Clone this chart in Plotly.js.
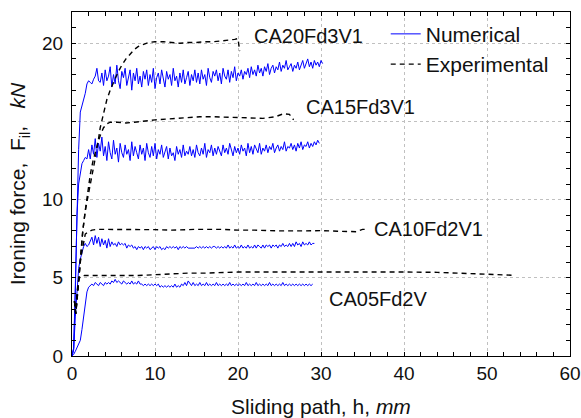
<!DOCTYPE html>
<html>
<head>
<meta charset="utf-8">
<script src="https://cdn.plot.ly/plotly-3.0.1.min.js"></script>
<style>html,body{margin:0;padding:0;background:#fff;}#chart{width:581px;height:418px;}</style>
</head>
<body>
<div id="chart"></div>
<script>
// Sliding path sample positions for numerical curves (mm)
const hNum = [0,0.2,0.4,0.6,0.8,1,1.2,1.4,1.6,1.8,
2,2.2,2.4,2.6,2.8,3,3.2,3.4,3.6,3.8,
4,4.2,4.4,4.6,4.8,5,5.2,5.4,5.6,5.8,
6,6.2,6.4,6.6,6.8,7,7.2,7.4,7.6,7.8,
8,8.2,8.4,8.6,8.8,9,9.2,9.4,9.6,9.8,
10,10.2,10.4,10.6,10.8,11,11.2,11.4,11.6,11.8,
12,12.2,12.4,12.6,12.8,13,13.2,13.4,13.6,13.8,
14,14.2,14.4,14.6,14.8,15,15.2,15.4,15.6,15.8,
16,16.2,16.4,16.6,16.8,17,17.2,17.4,17.6,17.8,
18,18.2,18.4,18.6,18.8,19,19.2,19.4,19.6,19.8,
20,20.2,20.4,20.6,20.8,21,21.2,21.4,21.6,21.8,
22,22.2,22.4,22.6,22.8,23,23.2,23.4,23.6,23.8,
24,24.2,24.4,24.6,24.8,25,25.2,25.4,25.6,25.8,
26,26.2,26.4,26.6,26.8,27,27.2,27.4,27.6,27.8,
28,28.2,28.4,28.6,28.8,29,29.2,29.4,29.6,29.8,
30,30.2];

// Numerical ironing force (kN)
const numCA20 = [0,0.5,4.5,9.5,13.2,15.6,16.0,16.4,16.8,17.4,17.6,17.5,17.4,17.7,17.9,18.4,
17.6,17.5,18.1,17.3,18.3,17.6,17.9,18.5,17.2,18.0,17.4,18.6,17.6,17.1,18.2,17.8,18.4,17.3,17.9,18.3,17.0,18.1,17.6,18.4,17.4,17.9,17.2,18.2,17.7,18.3,
17.3,18.0,17.5,18.4,17.1,17.8,18.1,17.4,18.3,17.6,17.2,18.2,17.7,18.0,17.3,18.4,17.6,17.9,17.2,18.1,17.5,18.3,17.4,17.8,18.2,17.3,18.0,17.6,18.3,17.5,
18.1,17.4,18.3,17.7,18.0,17.3,18.4,17.8,17.5,18.2,17.9,18.3,17.6,18.1,17.4,18.4,17.9,17.7,18.3,17.5,18.2,17.8,18.5,17.6,18.1,17.9,18.3,17.7,18.2,18.0,
18.4,17.8,18.5,18.0,18.3,17.9,18.6,18.1,18.4,17.9,18.5,18.2,18.7,18.0,18.4,18.6,18.1,18.5,18.3,18.8,18.2,18.6,18.4,18.9,18.3,18.5,18.7,18.2,18.6,18.4,
18.8,18.3,18.6,18.9,18.4,18.7,19.0,18.5,18.8,18.4,18.9,18.6,18.8,18.5,18.9,18.7];

const numCA15 = [0,0.5,4.0,9.0,11.0,11.8,12.3,12.5,12.7,12.6,13.2,
12.6,13.5,12.9,13.9,12.7,13.6,13.1,14.0,12.8,13.4,12.5,13.7,13.0,12.6,13.8,12.9,13.3,12.4,13.6,13.0,12.7,13.5,12.9,13.2,12.5,13.7,12.8,13.4,13.0,12.6,
13.5,12.9,13.3,12.5,13.6,13.0,12.7,13.4,12.8,13.6,12.6,13.2,12.9,13.5,12.7,13.1,13.4,12.6,13.3,12.8,13.0,12.5,13.4,12.9,13.2,12.7,13.5,12.8,13.1,12.9,
13.4,12.8,13.2,12.7,13.5,13.0,12.8,13.3,12.9,13.6,12.7,13.2,13.0,13.5,12.8,13.3,12.9,13.4,13.1,12.8,13.5,13.0,13.3,12.9,13.6,13.1,12.8,13.4,13.0,13.3,
12.9,13.5,13.1,13.3,12.8,13.6,13.0,13.4,12.9,13.5,13.2,13.0,13.6,12.9,13.3,13.1,13.5,13.0,13.4,13.2,13.6,13.0,13.3,13.5,13.1,13.4,13.2,13.7,13.1,13.4,
13.3,13.6,13.2,13.5,13.1,13.6,13.3,13.7,13.2,13.5,13.4,13.7,13.3,13.6,13.4,13.7,13.5,13.8,13.6];

const numCA10 = [0,0.4,2.5,4.5,5.6,6.2,6.7,7.0,7.2,7.0,7.1,
7.3,7.6,7.1,7.7,7.2,7.6,7.0,7.5,7.1,7.4,6.9,7.5,7.0,7.3,7.1,7.2,7.0,7.3,7.1,7.2,7.1,7.2,6.9,7.1,7.0,7.1,6.9,7.0,6.8,7.0,
6.9,7.0,6.8,7.0,6.9,7.0,6.8,6.9,7.0,6.8,7.0,6.9,7.0,6.8,6.9,6.8,7.0,6.9,7.0,6.9,7.0,6.9,7.0,6.8,7.0,6.9,7.0,6.9,7.0,6.9,
6.9,6.9,6.9,6.9,7.0,6.9,7.0,6.9,7.0,6.9,7.0,6.9,7.0,6.9,7.0,7.0,6.9,7.0,6.9,7.0,6.9,7.0,6.9,7.1,6.9,7.0,6.9,7.1,6.9,7.0,
6.9,7.1,6.9,7.0,6.9,7.1,6.9,7.0,6.9,7.1,6.9,7.1,7.0,6.9,7.1,6.9,7.1,7.0,7.1,6.9,7.1,7.0,7.1,6.9,7.1,7.0,7.2,7.0,7.1,7.0,
7.2,7.0,7.2,7.0,7.3,7.1,7.2,7.0,7.3,7.1,7.2,7.1,7.3,7.1,7.2,7.2];

const numCA05 = [0,0.1,0.3,0.5,0.7,1.0,1.7,2.5,3.3,4.1,4.4,4.5,
4.6,4.5,4.7,4.6,4.5,4.7,4.6,4.5,4.7,4.6,4.7,4.6,4.8,4.7,4.9,4.7,4.8,4.7,4.6,4.8,4.7,4.6,4.7,4.6,4.8,4.6,4.7,4.6,4.8,4.6,
4.6,4.5,4.6,4.5,4.6,4.5,4.6,4.5,4.6,4.5,4.6,4.4,4.5,4.4,4.5,4.4,4.5,4.4,4.5,4.4,4.6,4.4,4.5,4.4,4.6,4.5,4.7,4.5,4.8,4.6,
4.5,4.7,4.5,4.6,4.5,4.7,4.5,4.6,4.5,4.7,4.5,4.6,4.5,4.6,4.5,4.7,4.5,4.6,4.5,4.6,4.5,4.6,4.5,4.7,4.5,4.6,4.5,4.6,4.5,4.6,
4.5,4.6,4.5,4.7,4.5,4.6,4.5,4.6,4.5,4.7,4.5,4.6,4.5,4.6,4.5,4.6,4.5,4.7,4.5,4.6,4.5,4.6,4.5,4.6,4.5,4.7,4.5,4.6,4.5,4.6,
4.5,4.6,4.5,4.6,4.5,4.6,4.5,4.6,4.5,4.6,4.5,4.6,4.5,4.6];

// Experimental curves
const expCA20_h = [0.3,0.45,0.6,0.8,1.0,1.3,1.6,1.85,2.2,2.6,3.0,3.4,3.8,4.2,4.6,5.0,5.5,6.0,6.5,7.0,7.5,8.0,8.6,9.2,10,11,12,13,14,15,16,17,18,19,19.6,20.0,20.1,20.2];
const expCA20_F = [3.5,2.7,3.5,4.8,6.3,8.0,9.3,10.0,10.9,12.0,13.2,14.6,15.6,16.4,17.0,17.5,18.1,18.6,19.0,19.3,19.6,19.8,19.95,20.05,20.1,20.1,20.05,20.0,20.05,20.05,20.1,20.1,20.15,20.2,20.25,20.3,20.0,19.5];
const expCA15_h = [0.3,0.45,0.6,0.8,1.0,1.3,1.6,1.9,2.2,2.5,2.8,3.1,3.4,3.8,4.2,4.6,5.5,6.5,7.5,8.2,9,10,11.4,13,15.4,17,19.4,21,23,24.5,25.5,26.2,26.7];
const expCA15_F = [3.5,2.7,3.6,5.0,6.4,8.0,9.3,10.5,11.6,12.4,13.1,13.6,14.1,14.6,14.85,14.95,14.95,14.9,14.95,15.0,15.05,15.1,15.15,15.2,15.3,15.3,15.25,15.2,15.2,15.3,15.5,15.45,15.1];
const expCA10_h = [0.3,0.45,0.6,0.8,1.0,1.2,1.4,1.6,2.0,2.4,3,4,6,8,10,12,15,18,20,22,25,28,30,32,34.3,35,35.4];
const expCA10_F = [3.5,2.7,3.6,5.0,6.0,6.7,7.3,7.8,7.95,8.05,8.1,8.1,8.1,8.1,8.08,8.05,8.1,8.1,8.05,8.05,8.0,8.0,8.02,7.98,7.95,8.1,8.1];
const expCA05_h = [0.3,0.45,0.6,0.8,1.0,1.5,2,4,6,8,10,12,14,16,18,20,24,28,32,36,40,44,47,49,51,53.4];
const expCA05_F = [3.5,2.7,4.0,4.85,5.1,5.15,5.15,5.15,5.15,5.15,5.2,5.25,5.3,5.3,5.35,5.37,5.37,5.38,5.38,5.38,5.37,5.35,5.3,5.27,5.22,5.16];

// Curve labels
const labelText = ['CA20Fd3V1','CA15Fd3V1','CA10Fd2V1','CA05Fd2V'];
const labelX = [21.7, 27.95, 36.2, 30.7];
const labelY = [20.45, 15.9, 8.1, 3.62];

const xTickVals = [0,10,20,30,40,50,60];
const yTickVals = [0,5,10,20];
const yGridVals = [5,10,15,20];

const FONT = 'Liberation Sans, Arial, sans-serif';
const numLine = {color:'#0000ff', width:1};
const expLine = {color:'#000000', width:1.4, dash:'5px,4px'};

const traces = [
  {x:hNum, y:numCA20, mode:'lines', line:numLine, name:'Numerical', showlegend:true},
  {x:expCA20_h, y:expCA20_F, mode:'lines', line:expLine, name:'Experimental', showlegend:true},
  {x:hNum, y:numCA15, mode:'lines', line:numLine, showlegend:false},
  {x:hNum, y:numCA10, mode:'lines', line:numLine, showlegend:false},
  {x:hNum, y:numCA05, mode:'lines', line:numLine, showlegend:false},
  {x:expCA15_h, y:expCA15_F, yaxis:'y2', mode:'lines', line:expLine, showlegend:false},
  {x:expCA10_h, y:expCA10_F, yaxis:'y2', mode:'lines', line:expLine, showlegend:false},
  {x:expCA05_h, y:expCA05_F, yaxis:'y2', mode:'lines', line:expLine, showlegend:false}
];

const annotations = labelText.map((t,i)=>({
  x:labelX[i], y:labelY[i], xref:'x', yref:'y', text:t, showarrow:false,
  xanchor:'left', yanchor:'middle', font:{family:FONT, size:20, color:'#111'}
}));

const axisCommon = {
  showline:true, linecolor:'#000', linewidth:1, mirror:'allticks',
  ticks:'inside', ticklen:4, tickcolor:'#000', tickwidth:1,
  gridcolor:'#c0c0c0', griddash:'dot', gridwidth:1,
  zeroline:false, tickfont:{family:FONT, size:19, color:'#111'}
};

const layout = {
  width:581, height:418,
  margin:{l:72, r:11, t:12, b:62},
  paper_bgcolor:'#fff', plot_bgcolor:'#fff',
  font:{family:FONT, size:19, color:'#111'},
  xaxis: Object.assign({}, axisCommon, {
    range:[0,60], tickmode:'array', tickvals:xTickVals, showgrid:true,
    minor:{dtick:2, ticks:'inside', ticklen:4, tickcolor:'#000', showgrid:false},
    title:{text:'Sliding path, h, <i>mm</i>', font:{family:FONT, size:21, color:'#111'}, standoff:18}
  }),
  yaxis: Object.assign({}, axisCommon, {
    range:[0,22], tickmode:'array', tickvals:yTickVals, showgrid:false,
    minor:{dtick:1, ticks:'inside', ticklen:4, tickcolor:'#000', showgrid:false},
    ticklabelstandoff:4,
    title:{text:'Ironing force,  F<sub>il</sub>,   <i>kN</i>', font:{family:FONT, size:21, color:'#111'}, standoff:10}
  }),
  yaxis2: {
    overlaying:'y', side:'left', range:[0,22], tickmode:'array', tickvals:yGridVals,
    showgrid:true, gridcolor:'#c0c0c0', griddash:'dot', gridwidth:1,
    showticklabels:false, ticks:'', showline:false, zeroline:false
  },
  legend:{x:0.63, y:0.995, xanchor:'left', yanchor:'top', bgcolor:'rgba(0,0,0,0)',
    font:{family:FONT, size:21, color:'#111'}, tracegroupgap:0},
  annotations:annotations
};

Plotly.newPlot('chart', traces, layout, {staticPlot:true, displayModeBar:false});
</script>
</body>
</html>
